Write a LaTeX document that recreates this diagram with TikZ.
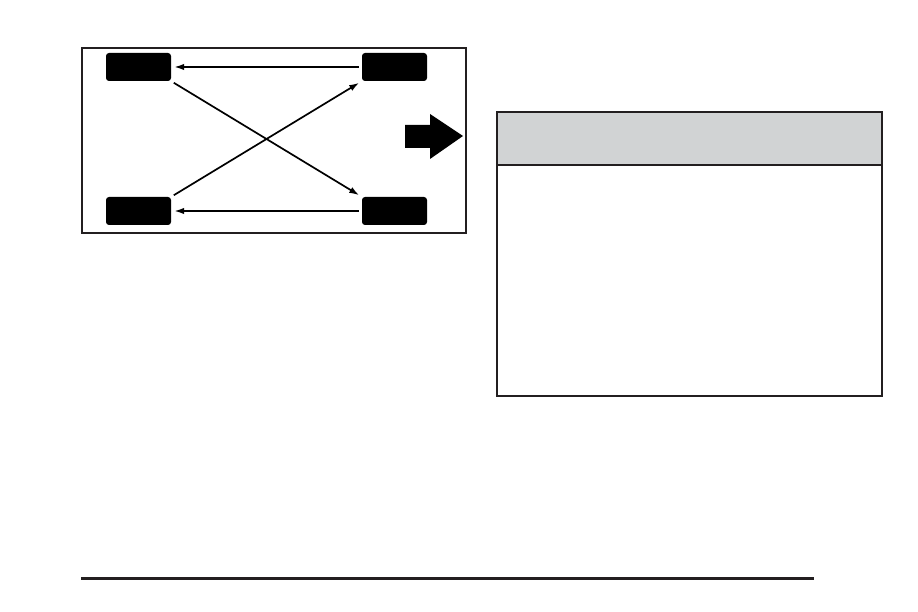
\documentclass[tikz,border=0pt]{standalone}
\usepackage{xcolor}
\usepackage{tikz}
\usetikzlibrary{arrows.meta, positioning}

\definecolor{ink}{HTML}{231F20}
\definecolor{panel}{HTML}{D1D3D4}

\begin{document}
\begin{tikzpicture}[x=1pt, y=-1pt, on grid,
    tire/.style={rectangle, rounded corners=3pt, fill=black, minimum width=65pt, minimum height=28pt, inner sep=0pt},
    swap/.style={-{Latex[length=10pt, width=6.5pt]}, line width=1.7pt, black, shorten >=3pt, shorten <=3pt}]
        \useasboundingbox (0,0) rectangle (918,612);

        % wheels
        \node[tire] (lr) at (138.5,67) {};
        \node[tire] (lf) [right=256pt of lr] {};
        \node[tire] (rr) [below=144pt of lr] {};
        \node[tire] (rf) [right=256pt of rr] {};

        % frame round the car
        \draw[ink, line width=1.8pt] (82,48) rectangle (466,233);

        \draw[swap] (lf.west) -- (lr.east);
        \draw[swap] (rf.west) -- (rr.east);
        \draw[swap] (lr.south east) -- (rf.north west);
        \draw[swap] (rr.north east) -- (lf.south west);

        % direction arrow
        \fill[black] (405,125) -- (430,125) -- (430,114) -- (463,136) -- (430,159) -- (430,148) -- (405,148) -- cycle;

        % caution panel
        \fill[panel] (497,112) rectangle (882,165);
        \draw[ink, line width=2pt] (497,112) rectangle (882,396);
        \draw[ink, line width=2pt] (497,165) -- (882,165);

        % page rule
        \draw[ink, line width=3pt] (81,578) -- (814,578);
\end{tikzpicture}
\end{document}
